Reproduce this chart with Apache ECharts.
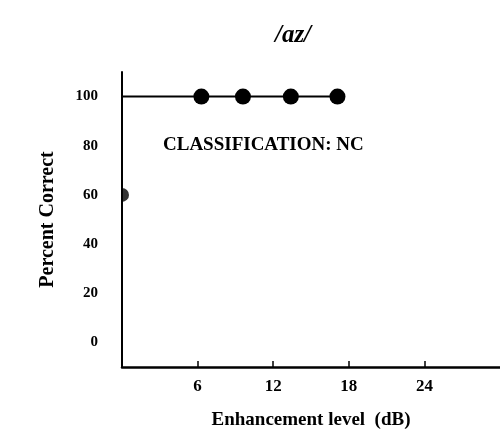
<!DOCTYPE html>
<html>
<head>
<meta charset="utf-8">
<script src="https://cdn.jsdelivr.net/npm/echarts@6/dist/echarts.min.js"></script>
<style>
  html, body { margin: 0; padding: 0; background: #fff; }
  #main { width: 500px; height: 440px; }
</style>
</head>
<body>
<div id="main"></div>
<script>
// enhancement level (dB) and percent correct
var levels = [0, 6.3, 9.6, 13.4, 17.1];
var percent = [100, 100, 100, 100, 100];
var startLevel = [0];
var startPercent = [60];
var xTicks = [6, 12, 18, 24];
var yTicks = [0, 20, 40, 60, 80, 100];

var font = 'Liberation Serif';
var myChart = echarts.init(document.getElementById('main'));

var lineData = levels.map(function (v, i) { return [v, percent[i]]; });
var pointData = startLevel.map(function (v, i) { return [v, startPercent[i]]; });

var option = {
    backgroundColor: '#fff',
    animation: false,
    title: [{
        text: '/ɑz/',
        left: 288,
        top: 18,
        textAlign: 'center',
        textStyle: { fontFamily: font, fontSize: 25, fontWeight: 'bold', fontStyle: 'italic', color: '#000' }
    }, {
        text: 'CLASSIFICATION: NC',
        left: 158,
        top: 131,
        textStyle: { fontFamily: font, fontSize: 19, fontWeight: 'bold', color: '#000' }
    }],
    grid: {
        left: 122,
        top: 72,
        width: 384,
        height: 295
    },
    xAxis: {
        type: 'value',
        min: 0,
        max: 30,
        interval: 6,
        name: 'Enhancement level  (dB)',
        nameLocation: 'middle',
        nameGap: 44,
        nameTextStyle: { fontFamily: font, fontSize: 19, fontWeight: 'bold', color: '#000' },
        axisLine: { show: true, onZero: false, lineStyle: { color: '#000', width: 2.5 } },
        axisTick: {
            show: true, inside: true, length: 6,
            lineStyle: { color: '#000', width: 1.5 },
            customValues: xTicks
        },
        axisLabel: {
            fontFamily: font, fontSize: 17, fontWeight: 'bold', color: '#000', margin: 11,
            customValues: xTicks
        },
        splitLine: { show: false }
    },
    yAxis: {
        type: 'value',
        min: -10,
        max: 110,
        interval: 10,
        name: 'Percent Correct',
        nameLocation: 'middle',
        nameGap: 64,
        nameTextStyle: { fontFamily: font, fontSize: 20, fontWeight: 'bold', color: '#000' },
        axisLine: { show: true, onZero: false, lineStyle: { color: '#000', width: 2 } },
        axisTick: { show: false },
        axisLabel: {
            fontFamily: font, fontSize: 15, fontWeight: 'bold', color: '#000', margin: 24,
            customValues: yTicks
        },
        splitLine: { show: false }
    },
    series: [{
        type: 'line',
        data: lineData,
        symbol: 'circle',
        symbolSize: function (v) { return v[0] === 0 ? 0 : 16; },
        lineStyle: { color: '#000', width: 2 },
        itemStyle: { color: '#000' },
        clip: false
    }, {
        // only the right half of this marker shows past the axis
        type: 'scatter',
        data: pointData,
        symbol: 'path://M0,0 A10,10 0 0 1 0,20 Z',
        symbolSize: [7, 14],
        symbolOffset: [3.5, 0],
        itemStyle: { color: '#000' }
    }]
};

myChart.setOption(option);
</script>
</body>
</html>
